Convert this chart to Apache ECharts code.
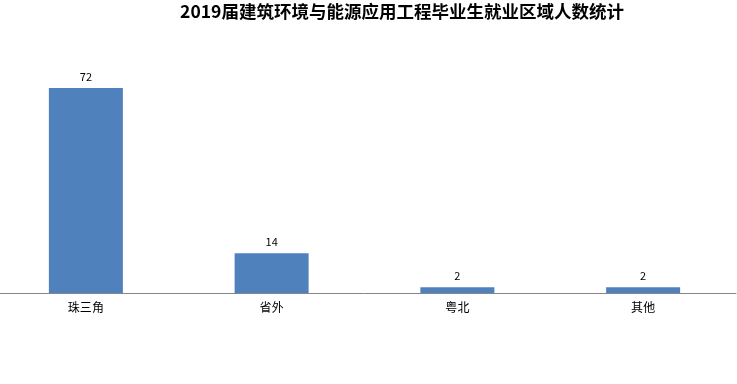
<!DOCTYPE html>
<html><head><meta charset="utf-8">
<script src="https://cdn.jsdelivr.net/npm/echarts@6/dist/echarts.min.js"></script>
<style>html,body{margin:0;padding:0;background:#fff;overflow:hidden;width:737px;height:384px}#c{width:744px;height:384px;margin-left:-7px}</style>
</head><body><div id="c"></div>
<script>
const categories = ["珠三角", "省外", "粤北", "其他"];
const values = [72, 14, 2, 2];
const titleText = "2019届建筑环境与能源应用工程毕业生就业区域人数统计";
const chart = echarts.init(document.getElementById('c'));
chart.setOption({
  animation: false,
  title: {
    text: titleText, left: 404, top: -2, textAlign: 'center',
    textStyle: { fontFamily: 'Noto Sans CJK SC', fontSize: 17.5, fontWeight: 'bold', color: '#000' }
  },
  grid: { left: 0, right: 1, top: 88, bottom: 91, containLabel: false },
  xAxis: {
    type: 'category', data: categories,
    axisLine: { lineStyle: { color: '#868686', width: 1 } },
    axisTick: { show: false },
    axisLabel: { color: '#000', fontSize: 12, fontFamily: 'Noto Sans CJK SC', margin: 8 }
  },
  yAxis: { type: 'value', min: 0, max: 72, show: false, splitLine: { show: false } },
  series: [{
    type: 'bar', data: values, barWidth: 74,
    itemStyle: { color: '#4f81bd' },
    label: { show: true, position: 'top', distance: 6, color: '#000', fontSize: 11, fontFamily: 'Noto Sans CJK SC' }
  }]
});
</script></body></html>
